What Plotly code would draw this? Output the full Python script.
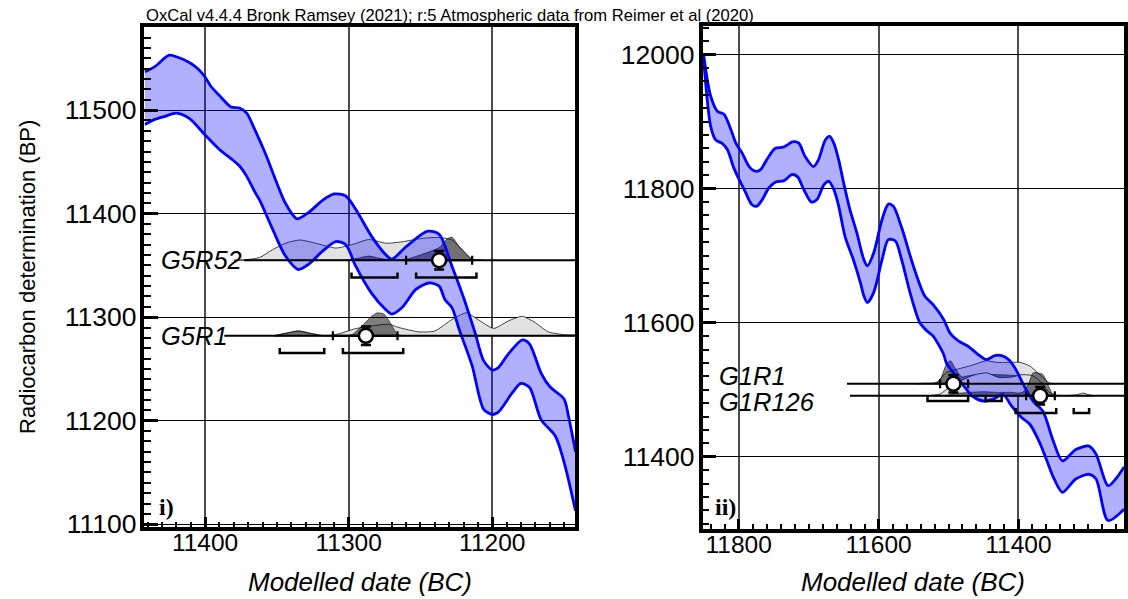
import plotly.graph_objects as go

# ------------------------------------------------------------------
# IntCal20 atmospheric curve, 1-sigma envelope (calendar year BC vs BP)
# ------------------------------------------------------------------
curve_i_upper_bc = [11442, 11435, 11425, 11419, 11411, 11405, 11400, 11396, 11390, 11382,
                    11376, 11371, 11366, 11358, 11351, 11344, 11336, 11328, 11318, 11310,
                    11302, 11295, 11284, 11274, 11270, 11260, 11245, 11237, 11228, 11220,
                    11212, 11206, 11200, 11196, 11189, 11179, 11174, 11166, 11160, 11150,
                    11147, 11142]
curve_i_upper_bp = [11537, 11542, 11553, 11551, 11546, 11540, 11532, 11523, 11514, 11503,
                    11502, 11497, 11483, 11458, 11433, 11410, 11395, 11401, 11413, 11419,
                    11417, 11404, 11378, 11360, 11356, 11368, 11383, 11380, 11349, 11319,
                    11285, 11258, 11249, 11251, 11264, 11278, 11274, 11246, 11233, 11221,
                    11205, 11170]
curve_i_lower_bc = [11442, 11435, 11428, 11420, 11411, 11400, 11390, 11381, 11376, 11371,
                    11365, 11362, 11353, 11344, 11335, 11328, 11318, 11309, 11302, 11295,
                    11284, 11274, 11270, 11263, 11253, 11244, 11237, 11233, 11228, 11223,
                    11214, 11206, 11200, 11196, 11186, 11180, 11174, 11166, 11156, 11150,
                    11142]
curve_i_lower_bp = [11486, 11491, 11494, 11497, 11492, 11476, 11462, 11452, 11446, 11436,
                    11420, 11413, 11385, 11359, 11346, 11351, 11364, 11373, 11370, 11349,
                    11323, 11307, 11303, 11309, 11327, 11333, 11330, 11317, 11309, 11288,
                    11253, 11211, 11206, 11208, 11227, 11236, 11232, 11201, 11185, 11160,
                    11113]

curve_ii_upper_bc = [11850, 11840, 11830, 11821, 11811, 11804, 11795, 11785, 11776, 11769,
                     11760, 11748, 11736, 11722, 11714, 11705, 11693, 11686, 11676, 11670,
                     11664, 11657, 11650, 11641, 11631, 11621, 11616, 11607, 11595, 11586,
                     11579, 11567, 11550, 11534, 11522, 11507, 11498, 11486, 11472, 11458,
                     11446, 11434, 11424, 11413, 11403, 11393, 11379, 11365, 11351, 11337,
                     11318, 11299, 11289, 11272, 11261, 11249]
curve_ii_upper_bp = [11999, 11938, 11915, 11911, 11888, 11868, 11853, 11833, 11826, 11828,
                     11843, 11860, 11862, 11870, 11868, 11848, 11833, 11843, 11873, 11878,
                     11868, 11843, 11809, 11769, 11734, 11694, 11685, 11704, 11754, 11777,
                     11774, 11742, 11684, 11640, 11627, 11605, 11585, 11573, 11565, 11553,
                     11545, 11551, 11551, 11544, 11529, 11508, 11483, 11468, 11426, 11394,
                     11411, 11416, 11404, 11357, 11367, 11385]
curve_ii_lower_bc = [11850, 11840, 11833, 11823, 11816, 11807, 11799, 11790, 11781, 11774,
                     11766, 11757, 11747, 11735, 11724, 11716, 11707, 11696, 11688, 11678,
                     11671, 11664, 11657, 11648, 11636, 11626, 11621, 11616, 11607, 11595,
                     11586, 11576, 11567, 11555, 11541, 11531, 11522, 11507, 11503, 11479,
                     11465, 11449, 11436, 11422, 11410, 11396, 11384, 11370, 11360, 11349,
                     11337, 11318, 11299, 11289, 11272, 11249]
curve_ii_lower_bp = [11992, 11893, 11873, 11867, 11858, 11831, 11813, 11794, 11776, 11774,
                     11784, 11801, 11810, 11812, 11821, 11818, 11799, 11780, 11784, 11806,
                     11811, 11799, 11774, 11729, 11694, 11660, 11640, 11630, 11645, 11694,
                     11724, 11722, 11694, 11645, 11600, 11588, 11580, 11553, 11540, 11507,
                     11490, 11483, 11486, 11493, 11476, 11459, 11449, 11422, 11396, 11367,
                     11347, 11367, 11374, 11367, 11305, 11322]

# ------------------------------------------------------------------
# Samples: radiocarbon result, modelled date (1-sigma bar), 95% ranges
# ------------------------------------------------------------------
i_names = ["G5R52", "G5R1"]
i_c14_bp = [11355, 11282]
i_c14_err = [9, 9]
i_date_mean = [11237, 11288]
i_date_old = [11260, 11311]
i_date_young = [11214, 11266]
i_hpd95 = [[(11298, 11266), (11253, 11211)],
           [(11348, 11317), (11304, 11262)]]

ii_names = ["G1R1", "G1R126"]
ii_c14_bp = [11509, 11491]
ii_c14_err = [13, 13]
ii_date_mean = [11493, 11369]
ii_date_old = [11512, 11389]
ii_date_young = [11472, 11348]
ii_hpd95 = [[(11530, 11472), (11447, 11424)],
            [(11404, 11346), (11321, 11299)]]

# Calibrated (unmodelled) and modelled probability distributions, peak = 1
G5R52_calib_bc = [11380, 11372, 11362, 11353, 11344, 11334, 11323, 11309, 11298, 11286,
                  11274, 11263, 11249, 11237, 11228, 11221, 11214, 11206]
G5R52_calib_p = [0, 0.02, 0.12, 0.46, 0.74, 0.88, 0.74, 0.53, 0.67, 0.9,
                 0.74, 0.8, 0.95, 0.99, 0.88, 0.46, 0.04, 0]
G5R52_model_bc = [11302, 11294, 11286, 11278, 11270, 11262, 11253, 11237, 11231, 11228,
                  11223, 11214, 11210]
G5R52_model_p = [0, 0.08, 0.18, 0.08, 0, 0, 0.17, 0.55, 0.95, 1.0, 0.6, 0.04, 0]

G5R1_calib_bc = [11352, 11343, 11335, 11326, 11318, 11312, 11306, 11296, 11284, 11272,
                 11265, 11251, 11240, 11228, 11218, 11210, 11199, 11189, 11179, 11170,
                 11161, 11150, 11142]
G5R1_calib_p = [0, 0.12, 0.21, 0.1, 0.02, 0.03, 0.1, 0.3, 0.43, 0.5,
                0.36, 0.17, 0.21, 0.71, 1.0, 0.71, 0.32, 0.64, 0.85, 0.57,
                0.17, 0.05, 0.03]
G5R1_model_bc = [11352, 11343, 11335, 11326, 11318, 11302, 11297, 11284, 11280, 11275,
                 11266, 11262]
G5R1_model_p = [0, 0.12, 0.21, 0.1, 0, 0, 0.07, 0.85, 1.0, 0.93, 0.07, 0]

G1R1_calib_bc = [11548, 11538, 11517, 11503, 11488, 11467, 11446, 11431, 11417, 11398,
                 11384, 11370, 11356, 11346]
G1R1_calib_p = [0, 0.02, 0.06, 0.49, 0.63, 0.8, 1.0, 0.93, 0.93, 0.93, 0.78, 0.41, 0.04, 0]
G1R1_model_bc = [11522, 11513, 11503, 11497, 11490, 11481, 11472, 11455, 11435, 11415,
                 11398, 11385, 11375, 11365]
G1R1_model_p = [0, 0.12, 0.85, 1.0, 0.65, 0.3, 0.35, 0.42, 0.4, 0.38, 0.33, 0.2, 0.06, 0]

G1R126_calib_bc = [11532, 11512, 11496, 11480, 11462, 11445, 11428, 11410, 11395, 11380,
                   11368, 11356, 11346, 11325, 11315, 11308, 11300, 11290]
G1R126_calib_p = [0, 0.08, 0.45, 0.7, 0.92, 1.0, 0.8, 0.82, 0.92, 0.88,
                  0.6, 0.15, 0.03, 0.02, 0.06, 0.12, 0.05, 0]
G1R126_model_bc = [11505, 11490, 11470, 11450, 11430, 11410, 11400, 11393, 11386, 11379,
                   11372, 11365, 11358, 11351, 11345]
G1R126_model_p = [0, 0.1, 0.15, 0.18, 0.15, 0.15, 0.12, 0.18, 0.5, 1.0,
                  1.0, 0.93, 0.5, 0.07, 0]

i_calib = [(G5R52_calib_bc, G5R52_calib_p), (G5R1_calib_bc, G5R1_calib_p)]
i_model = [(G5R52_model_bc, G5R52_model_p), (G5R1_model_bc, G5R1_model_p)]
ii_calib = [(G1R1_calib_bc, G1R1_calib_p), (G1R126_calib_bc, G1R126_calib_p)]
ii_model = [(G1R1_model_bc, G1R1_model_p), (G1R126_model_bc, G1R126_model_p)]

# ------------------------------------------------------------------
# Figure geometry and styling.  Positions below are given in a
# 1128 x 599 frame; the canvas itself is a little taller.
# ------------------------------------------------------------------
W = 1128
FRAME_H = 599
H = 610
FONT = "Liberation Sans, Arial, sans-serif"
SERIF = "Liberation Serif, Times New Roman, serif"
BLUE = "#0000ff"
BAND_FILL = "rgba(0,0,255,0.31)"
CALIB_FILL = "rgb(226,226,226)"
MODEL_FILL = "rgba(0,0,0,0.5)"

panel_i = dict(x0=145, x1=577, top=27, bottom=528,
               xr=(11442.2, 11142.4), yr=(11097.2, 11580.3),
               xdtick=100, xminor=10, ydtick=100, yminor=10,
               xa="x", ya="y", label_x=160, label_shift=[0, 0],
               line_start=[11372.8, 11386.6])
panel_ii = dict(x0=705, x1=1128, top=26, bottom=530,
                xr=(11851.7, 11249.1), yr=(11292.2, 12042.7),
                xdtick=200, xminor=20, ydtick=200, yminor=20,
                xa="x2", ya="y2", label_x=720, label_shift=[7.7, -6.1],
                line_start=[11645.1, 11640.9])

DIST_PX = 23        # height of a peak-normalised distribution
BRACKET_PX = 17.3   # 95% range bracket below the baseline
BRACKET_TICK_PX = 5


def px_x(x):
    return x / W


def px_y(y):
    return (FRAME_H - y) / FRAME_H


def bp_per_px(p):
    return (p["yr"][1] - p["yr"][0]) / (p["bottom"] - p["top"])


fig = go.Figure()


def add_panel(p, names, c14, c14_err, dmean, dold, dyoung, hpd, calib, model, curve):
    k = bp_per_px(p)
    xa, ya = p["xa"], p["ya"]
    common = dict(xaxis=xa, yaxis=ya, hoverinfo="skip", showlegend=False)

    # distributions along each measurement level
    for j, base in enumerate(c14):
        for (bc, prob), fill, outline in ((calib[j], CALIB_FILL, "rgba(0,0,0,0.9)"),
                                          (model[j], MODEL_FILL, "rgba(0,0,0,0.7)")):
            xs = list(bc) + list(bc)[::-1]
            ys = [base + v * DIST_PX * k for v in prob] + [base] * len(bc)
            fig.add_trace(go.Scatter(x=xs, y=ys, mode="lines", fill="toself",
                                     fillcolor=fill,
                                     line=dict(color=outline, width=0.8,
                                               shape="spline", smoothing=0.6),
                                     **common))

    # calibration envelope
    lo_x, lo_y, up_x, up_y = curve
    fig.add_trace(go.Scatter(x=lo_x, y=lo_y, mode="lines",
                             line=dict(color=BLUE, width=2.8, shape="spline", smoothing=0.8),
                             **common))
    fig.add_trace(go.Scatter(x=up_x, y=up_y, mode="lines", fill="tonexty",
                             fillcolor=BAND_FILL,
                             line=dict(color=BLUE, width=2.8, shape="spline", smoothing=0.8),
                             **common))

    # baselines
    for j, base in enumerate(c14):
        fig.add_trace(go.Scatter(x=[p["line_start"][j], p["xr"][1]], y=[base, base],
                                 mode="lines", line=dict(color="black", width=2),
                                 **common))

    # 95% range brackets
    bx, by = [], []
    for j, base in enumerate(c14):
        yb = base - BRACKET_PX * k
        yt = yb + BRACKET_TICK_PX * k
        for a, b in hpd[j]:
            bx += [a, a, b, b, None]
            by += [yt, yb, yb, yt, None]
    fig.add_trace(go.Scatter(x=bx, y=by, mode="lines",
                             line=dict(color="black", width=2.5), **common))

    # measurement points with date and radiocarbon error bars
    fig.add_trace(go.Scatter(
        x=dmean, y=c14, mode="markers",
        marker=dict(symbol="circle", size=14, color="white",
                    line=dict(color="black", width=2.5)),
        error_y=dict(type="data", array=c14_err, color="black", thickness=2.5, width=5),
        error_x=dict(type="data", array=[o - m for o, m in zip(dold, dmean)],
                     arrayminus=[m - y for m, y in zip(dmean, dyoung)],
                     color="black", thickness=2.2, width=4.5),
        **common))

    # sample names
    for j, base in enumerate(c14):
        fig.add_annotation(x=px_x(p["label_x"]), xref="paper", y=base, yref=ya,
                           text="<i>%s</i>" % names[j], showarrow=False,
                           xanchor="left", yanchor="middle", yshift=p["label_shift"][j],
                           font=dict(family=FONT, size=25.5, color="black"))


add_panel(panel_i, i_names, i_c14_bp, i_c14_err, i_date_mean, i_date_old, i_date_young,
          i_hpd95, i_calib, i_model,
          (curve_i_lower_bc, curve_i_lower_bp, curve_i_upper_bc, curve_i_upper_bp))
add_panel(panel_ii, ii_names, ii_c14_bp, ii_c14_err, ii_date_mean, ii_date_old, ii_date_young,
          ii_hpd95, ii_calib, ii_model,
          (curve_ii_lower_bc, curve_ii_lower_bp, curve_ii_upper_bc, curve_ii_upper_bp))


def axis_pair(p):
    xdom = [px_x(p["x0"]), min(1.0, px_x(p["x1"]))]
    ydom = [px_y(p["bottom"]), px_y(p["top"])]
    base = dict(showline=True, linecolor="black", linewidth=3.5, mirror=True,
                ticks="inside", tickcolor="black", zeroline=False, tickformat="d")
    xax = dict(base, domain=xdom, range=list(p["xr"]), dtick=p["xdtick"], tick0=0,
               ticklen=10, tickwidth=3, showgrid=True, gridcolor="#4d4d4d", gridwidth=2,
               ticklabelstandoff=-9,
               tickfont=dict(family=FONT, size=24.5, color="black"),
               minor=dict(dtick=p["xminor"], tick0=0, ticks="inside", ticklen=5,
                          tickwidth=1.5, tickcolor="black", showgrid=False))
    yax = dict(base, domain=ydom, range=list(p["yr"]), dtick=p["ydtick"], tick0=0,
               ticklen=14, tickwidth=3, showgrid=True, gridcolor="black", gridwidth=1.3,
               ticklabelstandoff=-1,
               tickfont=dict(family=FONT, size=26.5, color="black"),
               minor=dict(dtick=p["yminor"], tick0=0, ticks="inside", ticklen=7,
                          tickwidth=1.5, tickcolor="black", showgrid=False))
    return xax, yax


xa1, ya1 = axis_pair(panel_i)
xa2, ya2 = axis_pair(panel_ii)
xa1["anchor"], ya1["anchor"] = "y", "x"
xa2["anchor"], ya2["anchor"] = "y2", "x2"

fig.update_layout(
    width=W, height=H, autosize=False,
    margin=dict(l=0, r=0, t=0, b=0),
    paper_bgcolor="white", plot_bgcolor="white",
    xaxis=xa1, yaxis=ya1, xaxis2=xa2, yaxis2=ya2,
    showlegend=False,
)

# header, axis titles and panel numbers
fig.add_annotation(x=px_x(145), y=px_y(16), xref="paper", yref="paper",
                   text="OxCal v4.4.4 Bronk Ramsey (2021); r:5 Atmospheric data from Reimer et al (2020)",
                   showarrow=False, xanchor="left", yanchor="middle",
                   font=dict(family=FONT, size=16.6, color="black"))
fig.add_annotation(x=px_x(27), y=px_y(277.5), xref="paper", yref="paper",
                   text="Radiocarbon determination (BP)", textangle=-90,
                   showarrow=False, xanchor="center", yanchor="middle",
                   font=dict(family=FONT, size=22, color="black"))
for cx in ((panel_i["x0"] + panel_i["x1"]) / 2, (panel_ii["x0"] + panel_ii["x1"]) / 2):
    fig.add_annotation(x=px_x(cx), y=px_y(583), xref="paper", yref="paper",
                       text="<i>Modelled date (BC)</i>", showarrow=False,
                       xanchor="center", yanchor="middle",
                       font=dict(family=FONT, size=26, color="black"))
for lx, txt in ((158, "i)"), (716, "ii)")):
    fig.add_annotation(x=px_x(lx), y=px_y(508), xref="paper", yref="paper",
                       text="<b>%s</b>" % txt, showarrow=False,
                       xanchor="left", yanchor="middle",
                       font=dict(family=SERIF, size=24, color="black"))

fig.write_html("out.html")
